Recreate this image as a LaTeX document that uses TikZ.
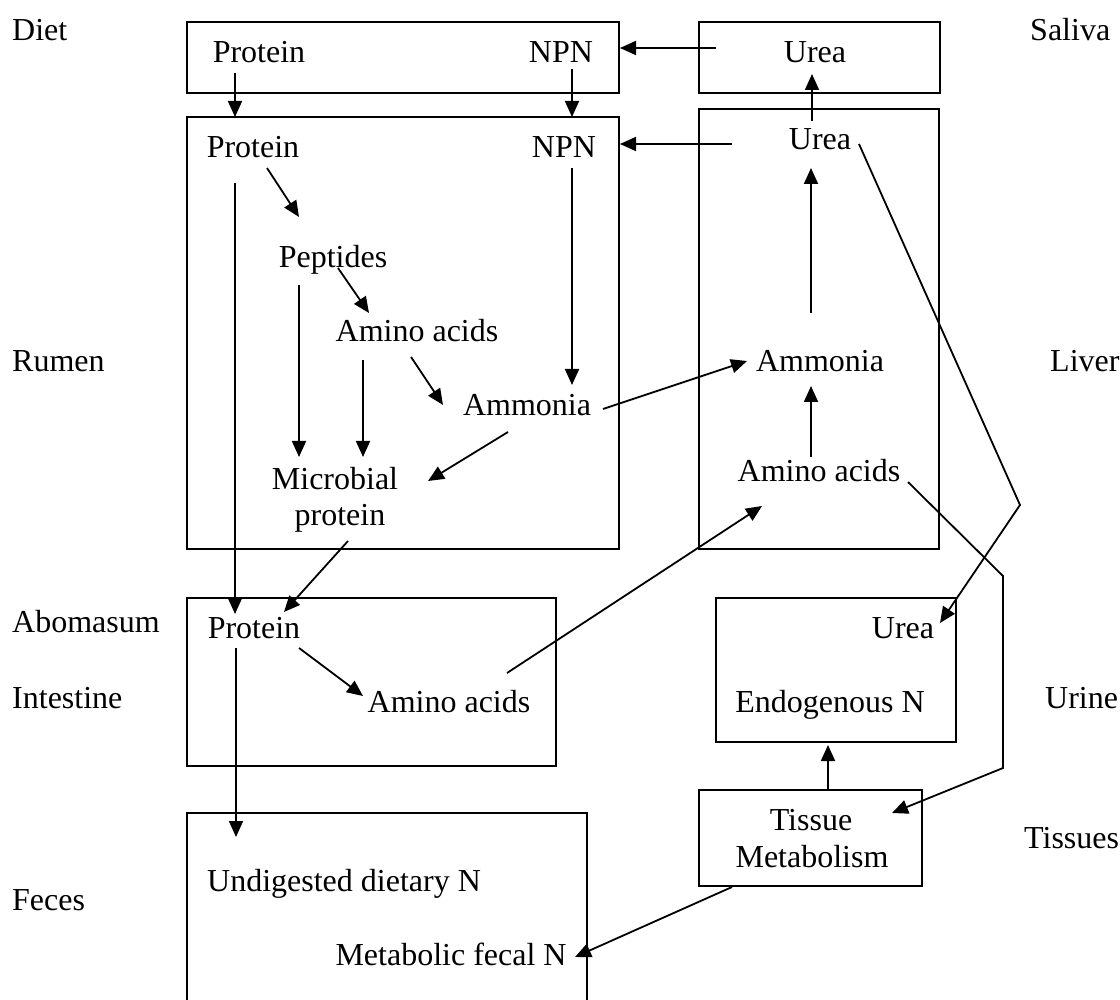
\documentclass[tikz,border=0pt]{standalone}
\usepackage{fontspec}
\setmainfont{Liberation Serif}
\usetikzlibrary{arrows.meta}
\begin{document}
\begin{tikzpicture}[x=1pt,y=-1pt,
  box/.style={draw,line width=2.2pt,inner sep=0pt},
  lbl/.style={anchor=base,inner sep=0pt,font=\fontsize{32}{37}\selectfont},
  side/.style={anchor=base west,inner sep=0pt,font=\fontsize{32}{37}\selectfont},
  flow/.style={line width=1.8pt,-{Triangle[length=16pt,width=14pt]}},
  plainline/.style={line width=1.8pt}]
\useasboundingbox (0,0) rectangle (1120,1000);

% boxes
\node[box,minimum width=432pt,minimum height=71pt]  (dietbox)   at (403,57.5) {};
\node[box,minimum width=241pt,minimum height=71pt]  (salivabox) at (819.5,57.5) {};
\node[box,minimum width=432pt,minimum height=432pt] (rumenbox)  at (403,333) {};
\node[box,minimum width=240pt,minimum height=440pt] (liverbox)  at (819,329) {};
\node[box,minimum width=369pt,minimum height=168pt] (abobox)    at (371.5,682) {};
\node[box,minimum width=240pt,minimum height=144pt] (urinebox)  at (836,670) {};
\node[box,minimum width=223pt,minimum height=96pt]  (tissuebox) at (810.5,838) {};
\draw[line width=2.2pt] (187,1001) -- (187,813) -- (587,813) -- (587,1001);

% side labels
\node[side] (lDiet) at (12,41) {Diet};
\node[side] (lRumen) at (12,372) {Rumen};
\node[side] (lAbo) at (12,632) {Abomasum};
\node[side] (lInt) at (12,708) {Intestine};
\node[side] (lFeces) at (12,910) {Feces};
\node[side] (lSaliva) at (1030,41) {Saliva};
\node[side] (lLiver) at (1050,372) {Liver};
\node[side] (lUrine) at (1045,708) {Urine};
\node[side] (lTissues) at (1024,848) {Tissues};

% texts in boxes
\node[lbl] (dprot) at (259,63) {Protein};
\node[lbl] (dnpn) at (561,63) {NPN};
\node[lbl] (surea) at (815,63) {Urea};
\node[lbl] (rprot) at (253,158) {Protein};
\node[lbl] (rnpn) at (564,158) {NPN};
\node[lbl] (lurea) at (820,150) {Urea};
\node[lbl] (pept) at (333,268) {Peptides};
\node[lbl] (raa) at (417,342) {Amino acids};
\node[lbl] (ramm) at (527,416) {Ammonia};
\node[lbl] (micro) at (335,489) {Microbial};
\node[lbl] (microb) at (340,525) {protein};
\node[lbl] (lamm) at (820,372) {Ammonia};
\node[lbl] (laa) at (819,482) {Amino acids};
\node[lbl] (aprot) at (254,638) {Protein};
\node[lbl] (aaa) at (449,712) {Amino acids};
\node[lbl] (uurea) at (903,638) {Urea};
\node[lbl] (endo) at (830,712) {Endogenous N};
\node[lbl] (tiss) at (811,830) {Tissue};
\node[lbl] (tissb) at (812,867) {Metabolism};
\node[lbl] (undig) at (344,891) {Undigested dietary N};
\node[lbl] (metab) at (451,965) {Metabolic fecal N};

% connector end points
\coordinate (su1) at (716,48);   \coordinate (dn1) at (620,48);
\coordinate (dp1) at (235,73);   \coordinate (rp1) at (235,117);
\coordinate (dn2) at (572,69);   \coordinate (rn1) at (572,117);
\coordinate (lu1) at (812,121);  \coordinate (su2) at (812,74);
\coordinate (lv1) at (732,144);  \coordinate (rn2) at (620,144);
\coordinate (rp2) at (235,183);  \coordinate (ap1) at (235,614);
\coordinate (rp3) at (267,168);  \coordinate (pe1) at (299,217);
\coordinate (pe2) at (338,268);  \coordinate (ra1) at (369,313);
\coordinate (pe3) at (299,285);  \coordinate (mi1) at (299,457);
\coordinate (ra2) at (363,360);  \coordinate (mi2) at (363,457);
\coordinate (ra3) at (411,357);  \coordinate (am1) at (443,405);
\coordinate (rn3) at (572,168);  \coordinate (am2) at (572,385);
\coordinate (am3) at (508,432);  \coordinate (mi3) at (428,481);
\coordinate (mi4) at (348,541);  \coordinate (ap2) at (284,612);
\coordinate (am4) at (603,409);  \coordinate (la1) at (747,361);
\coordinate (la2) at (811,313);  \coordinate (lu2) at (811,168);
\coordinate (lx1) at (811,457);  \coordinate (la3) at (811,386);
\coordinate (ap3) at (299,648);  \coordinate (aa1) at (363,696);
\coordinate (aa2) at (507,673);  \coordinate (lx2) at (762,506);
\coordinate (ap4) at (236,648);  \coordinate (fe1) at (236,837);
\coordinate (lu3) at (859,144);  \coordinate (bend1) at (1020,505); \coordinate (uu1) at (940,623);
\coordinate (lx3) at (908,482);  \coordinate (bend2) at (1003,576); \coordinate (bend3) at (1003,768); \coordinate (ti1) at (892,813);
\coordinate (ti2) at (828,790);  \coordinate (ur1) at (828,745);
\coordinate (ti3) at (732,887);  \coordinate (me1) at (575,957);

% connectors
\draw[flow] (su1) -- (dn1);
\draw[flow] (dp1) -- (rp1);
\draw[flow] (dn2) -- (rn1);
\draw[flow] (lu1) -- (su2);
\draw[flow] (lv1) -- (rn2);
\draw[flow] (rp2) -- (ap1);
\draw[flow] (rp3) -- (pe1);
\draw[flow] (pe2) -- (ra1);
\draw[flow] (pe3) -- (mi1);
\draw[flow] (ra2) -- (mi2);
\draw[flow] (ra3) -- (am1);
\draw[flow] (rn3) -- (am2);
\draw[flow] (am3) -- (mi3);
\draw[flow] (mi4) -- (ap2);
\draw[flow] (am4) -- (la1);
\draw[flow] (la2) -- (lu2);
\draw[flow] (lx1) -- (la3);
\draw[flow] (ap3) -- (aa1);
\draw[flow] (aa2) -- (lx2);
\draw[flow] (ap4) -- (fe1);
\draw[flow] (lu3) -- (bend1) -- (uu1);
\draw[flow] (lx3) -- (bend2) -- (bend3) -- (ti1);
\draw[flow] (ti2) -- (ur1);
\draw[flow] (ti3) -- (me1);
\end{tikzpicture}
\end{document}
